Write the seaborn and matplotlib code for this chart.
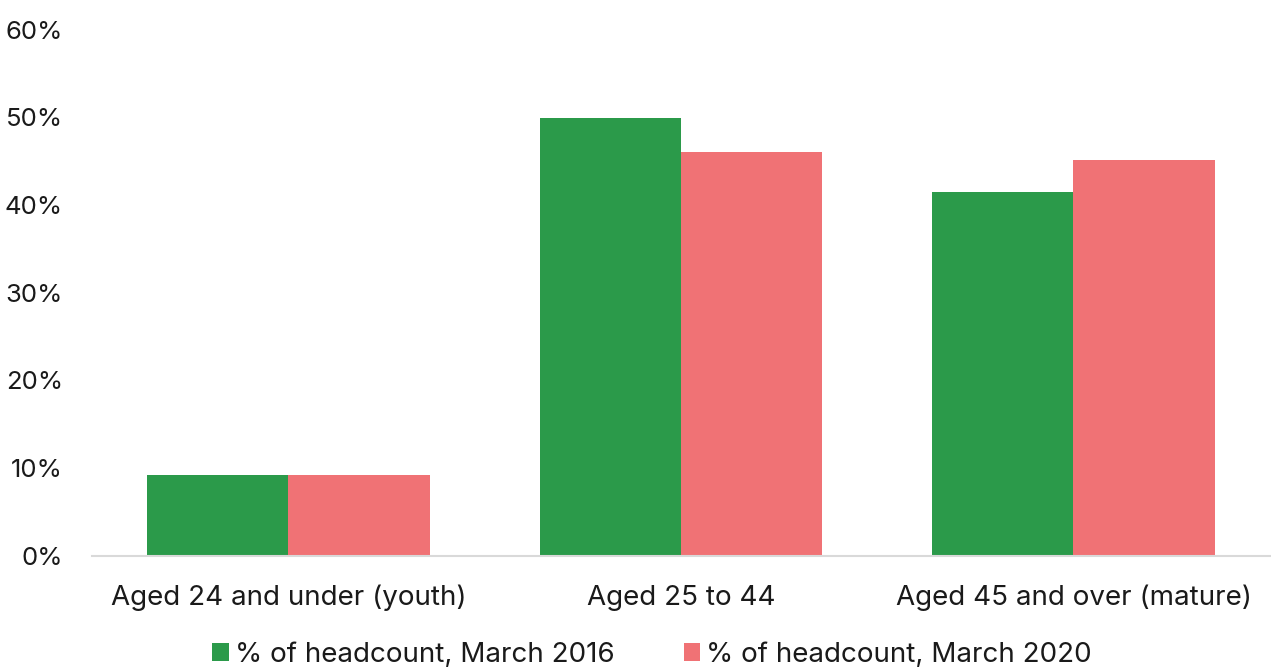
import matplotlib
matplotlib.use("Agg")
import matplotlib.pyplot as plt
import seaborn as sns
import pandas as pd
from matplotlib.ticker import FuncFormatter

categories = ["Aged 24 and under (youth)", "Aged 25 to 44", "Aged 45 and over (mature)"]
series_names = ["% of headcount, March 2016", "% of headcount, March 2020"]
share_2016 = [9.2, 49.9, 41.5]
share_2020 = [9.2, 46.0, 45.1]
colors = ["#2b9a4a", "#f07275"]

df = pd.DataFrame({
    "group": categories * 2,
    "series": [series_names[0]] * 3 + [series_names[1]] * 3,
    "value": share_2016 + share_2020,
})

sns.set_theme(style="white")
plt.rcParams["font.family"] = ["Inter", "DejaVu Sans"]

fig = plt.figure(figsize=(12.71, 6.68), dpi=100)
ax = fig.add_axes([0.0724, 0.1684, 0.9266, 0.7874])

sns.barplot(data=df, x="group", y="value", hue="series", palette=colors,
            width=0.72, gap=0, ax=ax, legend=True, saturation=1, linewidth=0)

ax.set_ylim(0, 60)
ax.set_yticks(range(0, 61, 10))
ax.yaxis.set_major_formatter(FuncFormatter(lambda v, _: f"{v:.0f}%"))
ax.set_xlabel("")
ax.set_ylabel("")
for s in ["top", "right", "left"]:
    ax.spines[s].set_visible(False)
ax.spines["bottom"].set_color("#d9d9d9")
ax.spines["bottom"].set_linewidth(1.5)
ax.tick_params(axis="both", length=0, colors="#1a1a1a")
ax.tick_params(axis="y", pad=21, labelsize=18.5)
ax.tick_params(axis="x", pad=21, labelsize=20)

handles, labels = ax.get_legend_handles_labels()
ax.get_legend().remove()
fig.legend(handles, labels, loc="center", bbox_to_anchor=(652 / 1271, 1 - 655 / 668),
           ncol=2, frameon=False, fontsize=20, handlelength=0.6, handleheight=0.6,
           handletextpad=0.2, columnspacing=2.5, labelcolor="#1a1a1a")

fig.savefig("out.png", dpi=100)
